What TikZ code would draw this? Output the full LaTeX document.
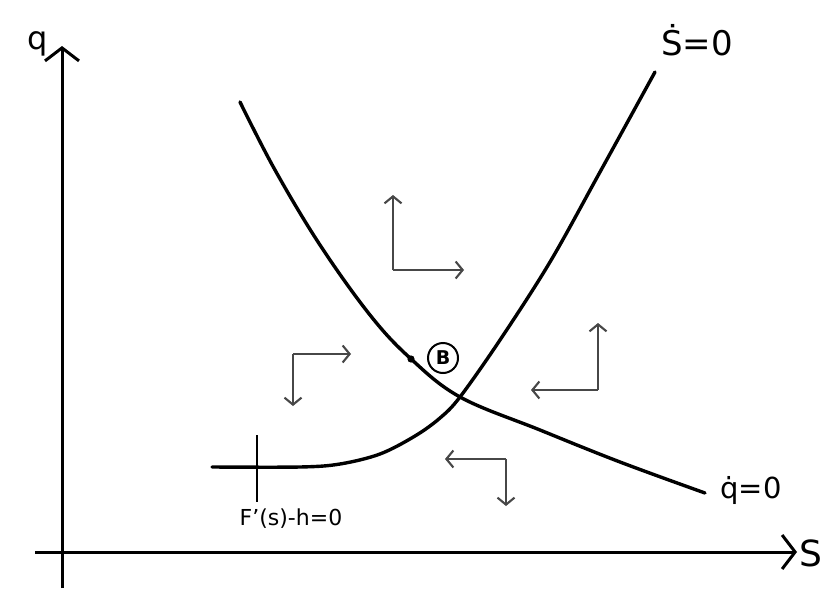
\documentclass[tikz,border=0pt]{standalone}
\usepackage{fontspec}
\setmainfont{DejaVu Sans}
\usetikzlibrary{arrows.meta}
\begin{document}
\begin{tikzpicture}[x=1pt,y=-1pt,
  curve/.style={line width=3.4pt,line cap=round,line join=round},
  axis/.style={line width=3pt,-{Straight Barb[length=13pt,width=34pt,line width=3pt]}},
  field/.style={line width=2.1pt,draw=black!72,-{Straight Barb[length=7pt,width=17pt,line width=2.1pt]}},
  lbl/.style={inner sep=0pt}]
\useasboundingbox (0,0) rectangle (822,589);
% axes
\coordinate (o1) at (62,588);
\coordinate (ytop) at (62,46);
\coordinate (o2) at (35,552);
\coordinate (xend) at (797,552);
\draw[axis] (o1) -- (ytop);
\draw[axis] (o2) -- (xend);
\node[lbl] (qlab) at (38,44) {\fontsize{32}{34}\selectfont q};
\node[lbl] (slab) at (811,553) {\fontsize{36}{38}\selectfont S};
% sdot = 0 curve
\draw[curve] plot[smooth,tension=0.55] coordinates {(212,467) (300,467) (340,464) (380,454) (415,436) (440,418) (460,397) (500,340) (550,262) (600,172) (655,72)};
% qdot = 0 curve
\draw[curve] plot[smooth,tension=0.6] coordinates {(240,102) (275,170) (320,245) (370,315) (410,358) (460,397) (540,430) (620,462) (705,493)};
% labels of curves
\node[lbl] (sdot) at (697,40) {\fontsize{34}{36}\selectfont \.{S}=0};
\node[lbl] (qdot) at (751,490) {\fontsize{29}{30}\selectfont \.{q}=0};
% tick and its label
\coordinate (t1) at (257,435);
\coordinate (t2) at (257,502);
\draw[line width=1.5pt] (t1) -- (t2);
\node[lbl] (flab) at (291,519) {\fontsize{22}{23}\selectfont F'(s)-h=0};
% point B
\node[draw,circle,line width=2pt,minimum size=30pt,inner sep=0pt,font=\bfseries\fontsize{19}{19}\selectfont] (B) at (443,358) {B};
\coordinate (dotpt) at (411,359);
\fill (dotpt) circle (3.6pt);
% field arrows
\coordinate (c1) at (393,270); \coordinate (c1u) at (393,195); \coordinate (c1r) at (464,270);
\draw[field] (c1) -- (c1u); \draw[field] (c1) -- (c1r);
\coordinate (c2) at (293,354); \coordinate (c2r) at (351,354); \coordinate (c2d) at (293,406);
\draw[field] (c2) -- (c2r); \draw[field] (c2) -- (c2d);
\coordinate (c3) at (598,390); \coordinate (c3u) at (598,323); \coordinate (c3l) at (531,390);
\draw[field] (c3) -- (c3u); \draw[field] (c3) -- (c3l);
\coordinate (c4) at (506,459); \coordinate (c4l) at (445,459); \coordinate (c4d) at (506,506);
\draw[field] (c4) -- (c4l); \draw[field] (c4) -- (c4d);
\end{tikzpicture}
\end{document}
